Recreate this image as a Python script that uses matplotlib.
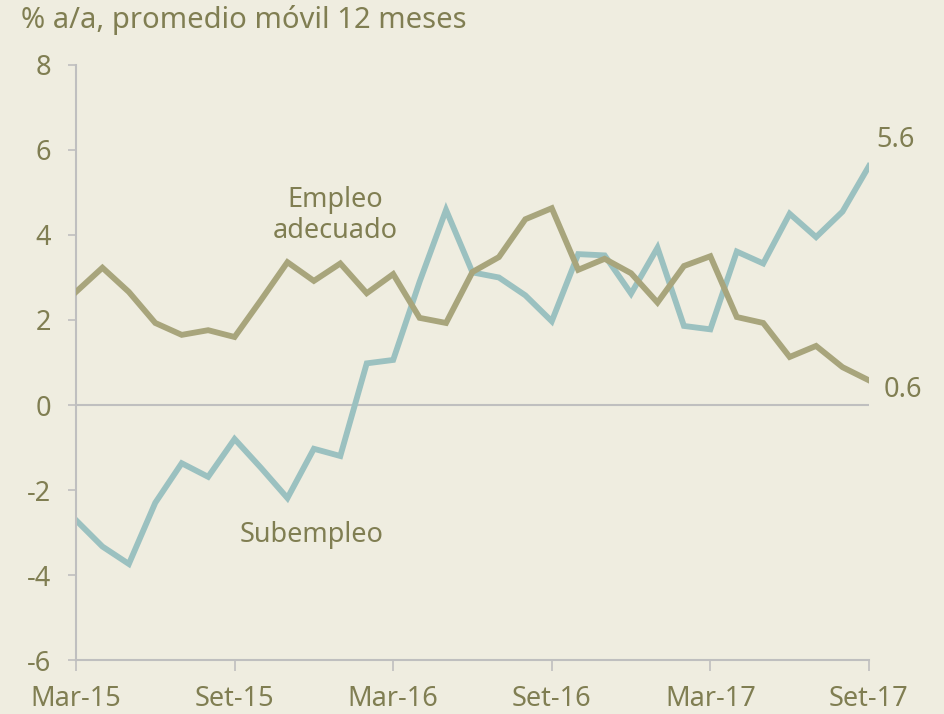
import numpy as np
import matplotlib
matplotlib.use("Agg")
import matplotlib.pyplot as plt

plt.rcParams['font.family'] = ['Noto Sans', 'DejaVu Sans']
plt.rcParams['axes.unicode_minus'] = False

# monthly, Mar-15 .. Set-17
months = np.arange(31)
tick_pos = [0, 6, 12, 18, 24, 30]
tick_labels = ['Mar-15', 'Set-15', 'Mar-16', 'Set-16', 'Mar-17', 'Set-17']

empleo = [2.66, 3.23, 2.66, 1.93, 1.65, 1.76, 1.60, 2.47, 3.36, 2.92,
          3.33, 2.63, 3.08, 2.05, 1.93, 3.13, 3.48, 4.37, 4.63, 3.18,
          3.44, 3.10, 2.41, 3.27, 3.50, 2.07, 1.93, 1.13, 1.39, 0.89, 0.58]
subempleo = [-2.71, -3.33, -3.74, -2.30, -1.37, -1.69, -0.80, -1.48, -2.19, -1.03,
             -1.20, 0.98, 1.06, 2.90, 4.59, 3.12, 3.00, 2.58, 1.97, 3.55,
             3.52, 2.62, 3.70, 1.86, 1.78, 3.61, 3.33, 4.50, 3.95, 4.55, 5.62]

bg = '#EFEDE0'
olive = '#A8A57C'
teal = '#9BC1C0'
txt = '#807E52'
grey = '#BFBFBF'

fig = plt.figure(figsize=(9.44, 7.14), dpi=100, facecolor=bg)
ax = fig.add_axes([0.0805, 0.0756, 0.840, 0.8334], facecolor=bg)

ax.axhline(0, color=grey, lw=1.5, zorder=1)
ax.plot(months, empleo, color=olive, lw=4.2, zorder=3, solid_joinstyle='miter')
ax.plot(months, subempleo, color=teal, lw=4.2, zorder=2, solid_joinstyle='miter')

ax.set_xlim(0, 30)
ax.set_ylim(-6, 8)
ax.set_yticks(range(-6, 9, 2))
ax.set_xticks(tick_pos)
ax.set_xticklabels(tick_labels)

for s in ['top', 'right']:
    ax.spines[s].set_visible(False)
for s in ['left', 'bottom']:
    ax.spines[s].set_color(grey)
    ax.spines[s].set_linewidth(1.5)
ax.spines['bottom'].set_zorder(0)

ax.tick_params(axis='y', length=6, width=1.2, color=grey, labelcolor=txt,
               labelsize=19.5, pad=12)
ax.tick_params(axis='x', length=8, width=1.2, color=grey, labelcolor=txt,
               labelsize=19.5, pad=10)

fig.text(0.022, 0.972, '% a/a, promedio móvil 12 meses', color=txt,
         fontsize=21, ha='left', va='center')

ax.text(9.8, 4.45, 'Empleo\nadecuado', color=txt, fontsize=19.5, ha='center',
        va='center', linespacing=1.15)
ax.text(8.9, -3.06, 'Subempleo', color=txt, fontsize=19.5, ha='center', va='center')
ax.text(31.0, subempleo[-1] + 0.62, '%.1f' % subempleo[-1], color=txt,
        fontsize=19.5, ha='center', va='center', clip_on=False)
ax.text(31.3, empleo[-1] - 0.22, '%.1f' % empleo[-1], color=txt,
        fontsize=19.5, ha='center', va='center', clip_on=False)

fig.savefig('out.png', dpi=100, facecolor=bg)
